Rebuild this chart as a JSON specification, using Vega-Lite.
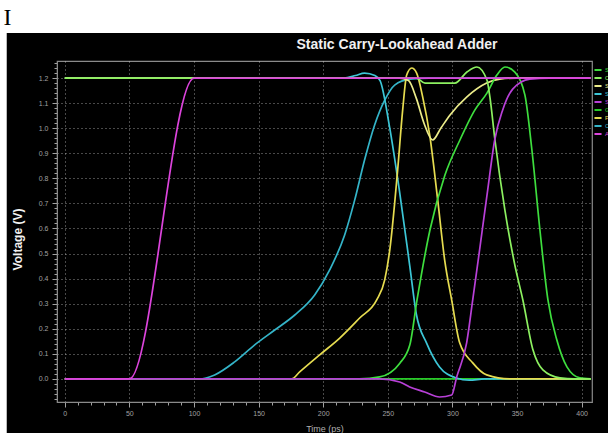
{
  "$schema": "https://vega.github.io/schema/vega-lite/v6.json",
  "width": 535,
  "height": 341,
  "autosize": {"type": "none"},
  "padding": {"left": 57, "top": 61, "right": 16, "bottom": 31},
  "background": "#000000",
  "config": {
    "view": {"stroke": "#8a8a8a", "strokeWidth": 1.2},
    "font": "Liberation Sans"
  },
  "datasets": {
    "bands": [
      {"t": -60, "t2": 430, "v": 1.38, "v2": 1.7},
      {"t": -60, "t2": -44.9, "v": -0.3, "v2": 1.7}
    ],
    "note": [{"t": -44.3, "v": 1.44, "label": "I"}],
    "heading": [{"t": 257.1, "v": 1.332, "label": "Static Carry-Lookahead Adder"}],
    "traces": [
      {"s": "G", "t": 0, "v": 0}, {"s": "G", "t": 407, "v": 0},

      {"s": "C1", "t": 0, "v": 0}, {"s": "C1", "t": 104, "v": 0}, {"s": "C1", "t": 116, "v": 0.016}, {"s": "C1", "t": 131.5, "v": 0.068}, {"s": "C1", "t": 147, "v": 0.136}, {"s": "C1", "t": 162.5, "v": 0.195}, {"s": "C1", "t": 178, "v": 0.255}, {"s": "C1", "t": 193.4, "v": 0.335}, {"s": "C1", "t": 205, "v": 0.435}, {"s": "C1", "t": 216.6, "v": 0.574}, {"s": "C1", "t": 224.4, "v": 0.714}, {"s": "C1", "t": 232, "v": 0.873}, {"s": "C1", "t": 239.8, "v": 1.013}, {"s": "C1", "t": 247.6, "v": 1.112}, {"s": "C1", "t": 255.3, "v": 1.172}, {"s": "C1", "t": 267, "v": 1.196}, {"s": "C1", "t": 282, "v": 1.2}, {"s": "C1", "t": 407, "v": 1.2},

      {"s": "S1", "t": 0, "v": 1.2}, {"s": "S1", "t": 216, "v": 1.2}, {"s": "S1", "t": 225, "v": 1.21}, {"s": "S1", "t": 232, "v": 1.22}, {"s": "S1", "t": 240, "v": 1.21}, {"s": "S1", "t": 244, "v": 1.19}, {"s": "S1", "t": 251.5, "v": 1.0}, {"s": "S1", "t": 259, "v": 0.75}, {"s": "S1", "t": 267, "v": 0.45}, {"s": "S1", "t": 272, "v": 0.26}, {"s": "S1", "t": 280, "v": 0.143}, {"s": "S1", "t": 290, "v": 0.048}, {"s": "S1", "t": 303, "v": 0.004}, {"s": "S1", "t": 313, "v": -0.005}, {"s": "S1", "t": 325, "v": 0}, {"s": "S1", "t": 407, "v": 0},

      {"s": "P", "t": 0, "v": 0}, {"s": "P", "t": 175.6, "v": 0}, {"s": "P", "t": 181.8, "v": 0.028}, {"s": "P", "t": 197.3, "v": 0.096}, {"s": "P", "t": 212.8, "v": 0.163}, {"s": "P", "t": 228.2, "v": 0.243}, {"s": "P", "t": 241.4, "v": 0.315}, {"s": "P", "t": 247.6, "v": 0.395}, {"s": "P", "t": 251.5, "v": 0.514}, {"s": "P", "t": 257.6, "v": 0.833}, {"s": "P", "t": 261.5, "v": 1.073}, {"s": "P", "t": 264.6, "v": 1.212}, {"s": "P", "t": 268.5, "v": 1.24}, {"s": "P", "t": 272.3, "v": 1.22}, {"s": "P", "t": 277, "v": 1.124}, {"s": "P", "t": 282.4, "v": 0.973}, {"s": "P", "t": 288.6, "v": 0.714}, {"s": "P", "t": 294, "v": 0.474}, {"s": "P", "t": 299.4, "v": 0.315}, {"s": "P", "t": 305.6, "v": 0.144}, {"s": "P", "t": 315.7, "v": 0.064}, {"s": "P", "t": 326.5, "v": 0.016}, {"s": "P", "t": 344.3, "v": 0}, {"s": "P", "t": 407, "v": 0},

      {"s": "S2", "t": 0, "v": 1.2}, {"s": "S2", "t": 259, "v": 1.2}, {"s": "S2", "t": 266, "v": 1.19}, {"s": "S2", "t": 272, "v": 1.12}, {"s": "S2", "t": 278, "v": 1.02}, {"s": "S2", "t": 284.7, "v": 0.953}, {"s": "S2", "t": 291, "v": 1.0}, {"s": "S2", "t": 298, "v": 1.052}, {"s": "S2", "t": 311, "v": 1.124}, {"s": "S2", "t": 326.5, "v": 1.18}, {"s": "S2", "t": 336.6, "v": 1.196}, {"s": "S2", "t": 350, "v": 1.2}, {"s": "S2", "t": 407, "v": 1.2},

      {"s": "S3", "t": 0, "v": 0}, {"s": "S3", "t": 228, "v": 0}, {"s": "S3", "t": 243.7, "v": 0.008}, {"s": "S3", "t": 259.3, "v": 0.063}, {"s": "S3", "t": 267, "v": 0.135}, {"s": "S3", "t": 272.6, "v": 0.315}, {"s": "S3", "t": 282.6, "v": 0.594}, {"s": "S3", "t": 294.2, "v": 0.813}, {"s": "S3", "t": 305.8, "v": 0.953}, {"s": "S3", "t": 317.4, "v": 1.073}, {"s": "S3", "t": 326.7, "v": 1.14}, {"s": "S3", "t": 334.4, "v": 1.212}, {"s": "S3", "t": 340.6, "v": 1.244}, {"s": "S3", "t": 348.3, "v": 1.224}, {"s": "S3", "t": 356.1, "v": 1.132}, {"s": "S3", "t": 361.5, "v": 0.913}, {"s": "S3", "t": 367.7, "v": 0.594}, {"s": "S3", "t": 373.9, "v": 0.315}, {"s": "S3", "t": 380.8, "v": 0.155}, {"s": "S3", "t": 388.6, "v": 0.048}, {"s": "S3", "t": 398.6, "v": 0.004}, {"s": "S3", "t": 407, "v": 0},

      {"s": "Cout", "t": 0, "v": 1.2}, {"s": "Cout", "t": 272, "v": 1.2}, {"s": "Cout", "t": 278.8, "v": 1.18}, {"s": "Cout", "t": 301.9, "v": 1.18}, {"s": "Cout", "t": 311.2, "v": 1.224}, {"s": "Cout", "t": 318.9, "v": 1.244}, {"s": "Cout", "t": 326.7, "v": 1.192}, {"s": "Cout", "t": 329, "v": 1.124}, {"s": "Cout", "t": 332.9, "v": 0.953}, {"s": "Cout", "t": 340.6, "v": 0.673}, {"s": "Cout", "t": 348.3, "v": 0.454}, {"s": "Cout", "t": 354.5, "v": 0.315}, {"s": "Cout", "t": 362.3, "v": 0.116}, {"s": "Cout", "t": 370, "v": 0.036}, {"s": "Cout", "t": 383.2, "v": 0.004}, {"s": "Cout", "t": 394.8, "v": 0}, {"s": "Cout", "t": 407, "v": 0},

      {"s": "S0", "t": 0, "v": 0}, {"s": "S0", "t": 243.7, "v": 0}, {"s": "S0", "t": 259.2, "v": -0.012}, {"s": "S0", "t": 266.9, "v": -0.032}, {"s": "S0", "t": 278.5, "v": -0.052}, {"s": "S0", "t": 290.1, "v": -0.072}, {"s": "S0", "t": 299.4, "v": -0.064}, {"s": "S0", "t": 303.3, "v": 0.008}, {"s": "S0", "t": 311, "v": 0.144}, {"s": "S0", "t": 315.7, "v": 0.315}, {"s": "S0", "t": 321.1, "v": 0.518}, {"s": "S0", "t": 327.3, "v": 0.754}, {"s": "S0", "t": 332.7, "v": 0.953}, {"s": "S0", "t": 338.9, "v": 1.073}, {"s": "S0", "t": 346.6, "v": 1.156}, {"s": "S0", "t": 359.8, "v": 1.196}, {"s": "S0", "t": 375, "v": 1.2}, {"s": "S0", "t": 407, "v": 1.2},

      {"s": "A", "t": 0, "v": 0}, {"s": "A", "t": 50, "v": 0}, {"s": "A", "t": 100, "v": 1.2}, {"s": "A", "t": 407, "v": 1.2}
    ]
  },
  "layer": [
    {
      "data": {"name": "bands"},
      "mark": {"type": "rect", "color": "#ffffff", "clip": false},
      "encoding": {
        "x": {"field": "t", "type": "quantitative"},
        "x2": {"field": "t2"},
        "y": {"field": "v", "type": "quantitative"},
        "y2": {"field": "v2"}
      }
    },
    {
      "data": {"name": "note"},
      "mark": {"type": "text", "font": "Liberation Serif", "fontSize": 24, "color": "#000000", "clip": false},
      "encoding": {
        "x": {"field": "t", "type": "quantitative"},
        "y": {"field": "v", "type": "quantitative"},
        "text": {"field": "label"}
      }
    },
    {
      "data": {"name": "heading"},
      "mark": {"type": "text", "font": "Liberation Sans", "fontSize": 14, "fontWeight": "bold", "color": "#f0f0f0", "align": "center", "baseline": "middle", "clip": false},
      "encoding": {
        "x": {"field": "t", "type": "quantitative"},
        "y": {"field": "v", "type": "quantitative"},
        "text": {"field": "label"}
      }
    },
    {
      "data": {"name": "traces"},
      "mark": {"type": "line", "strokeWidth": 1.7, "interpolate": "monotone"},
      "encoding": {
        "x": {
          "field": "t", "type": "quantitative",
          "scale": {"domain": [-6, 408], "nice": false, "zero": false},
          "axis": {
            "title": "Time (ps)",
            "titleColor": "#b0b0b0", "titleFontSize": 9, "titleFontWeight": "normal", "titlePadding": 8,
            "tickCount": 1000,
            "values": [0,10,20,30,40,50,60,70,80,90,100,110,120,130,140,150,160,170,180,190,200,210,220,230,240,250,260,270,280,290,300,310,320,330,340,350,360,370,380,390,400],
            "labelExpr": "datum.value % 50 === 0 ? format(datum.value, 'd') : ''",
            "labelFontSize": 7, "labelColor": "#a0a0a0", "labelPadding": 2, "labelOverlap": false,
            "domainColor": "#8a8a8a", "tickColor": "#a0a0a0",
            "tickSize": {"condition": {"test": "datum.value % 50 === 0", "value": 5}, "value": 3},
            "grid": true, "gridColor": "#d0d0d0", "gridDash": [1, 3],
            "gridOpacity": {"condition": {"test": "datum.value % 50 === 0", "value": 0.7}, "value": 0}
          }
        },
        "y": {
          "field": "v", "type": "quantitative",
          "scale": {"domain": [-0.092, 1.268], "nice": false, "zero": false},
          "axis": {
            "title": "Voltage (V)",
            "titleColor": "#f0f0f0", "titleFontSize": 12, "titleFontWeight": "bold", "titlePadding": 14, "titleY": 178,
            "tickCount": 1000,
            "values": [-0.08,-0.06,-0.04,-0.02,0,0.02,0.04,0.06,0.08,0.1,0.12,0.14,0.16,0.18,0.2,0.22,0.24,0.26,0.28,0.3,0.32,0.34,0.36,0.38,0.4,0.42,0.44,0.46,0.48,0.5,0.52,0.54,0.56,0.58,0.6,0.62,0.64,0.66,0.68,0.7,0.72,0.74,0.76,0.78,0.8,0.82,0.84,0.86,0.88,0.9,0.92,0.94,0.96,0.98,1.0,1.02,1.04,1.06,1.08,1.1,1.12,1.14,1.16,1.18,1.2,1.22,1.24,1.26],
            "labelExpr": "(abs(datum.value*10 - round(datum.value*10)) < 0.001 && datum.value > -0.001) ? format(datum.value, '.1f') : ''",
            "labelFontSize": 7, "labelColor": "#a0a0a0", "labelPadding": 4, "labelOverlap": false,
            "domainColor": "#8a8a8a", "tickColor": "#a0a0a0",
            "tickSize": {"condition": {"test": "abs(datum.value*10 - round(datum.value*10)) < 0.001", "value": 5}, "value": 3},
            "grid": true, "gridColor": "#d0d0d0", "gridDash": [1, 3],
            "gridOpacity": {"condition": {"test": "abs(datum.value*10 - round(datum.value*10)) < 0.001 && datum.value > -0.001", "value": 0.7}, "value": 0}
          }
        },
        "color": {
          "field": "s", "type": "nominal",
          "scale": {
            "domain": ["S3", "Cout", "S2", "S1", "S0", "G", "P", "C1", "A"],
            "range": ["#3ede3e", "#8cf060", "#ecec8a", "#3cc6d6", "#b840d8", "#28cc28", "#e6dc50", "#34b4c8", "#dc44dc"]
          },
          "legend": {
            "orient": "none", "legendX": 536, "legendY": 5,
            "title": null,
            "symbolType": "stroke", "symbolSize": 50, "symbolStrokeWidth": 2,
            "labelFontSize": 6, "rowPadding": 0, "clipHeight": 8, "labelOffset": 2,
            "encode": {"labels": {"update": {"fill": {"scale": "color", "field": "value"}}}}
          }
        }
      }
    }
  ]
}
